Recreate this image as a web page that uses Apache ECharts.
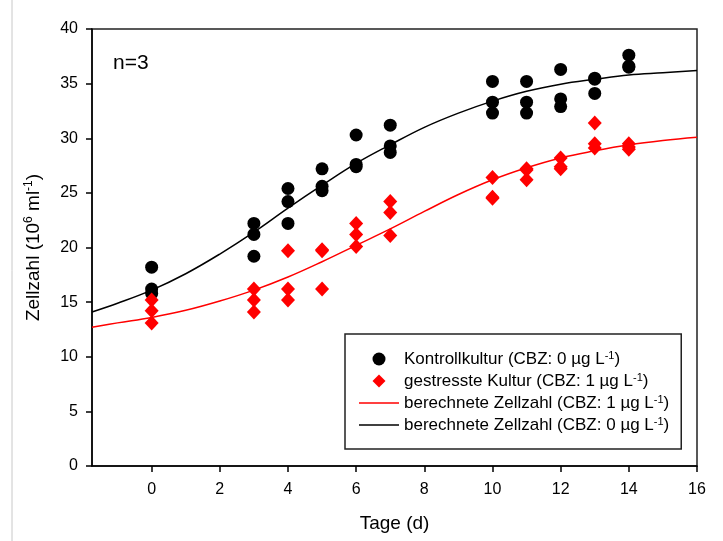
<!DOCTYPE html>
<html>
<head>
<meta charset="utf-8">
<script src="https://cdn.jsdelivr.net/npm/echarts@6/dist/echarts.min.js"></script>
<style>html,body{margin:0;padding:0;background:#fff;}#c{width:723px;height:541px;}</style>
</head>
<body>
<div id="c"></div>
<script>
// ---- data ----
const xTickValues = [0, 2, 4, 6, 8, 10, 12, 14, 16];
const yTickInterval = 5;

const ctrlDays  = [0,0,0, 3,3,3, 4,4,4, 5,5,5, 6,6,6, 7,7,7, 10,10,10, 11,11,11, 12,12,12, 13,13,13, 14,14,14];
const ctrlCells = [18.2,16.2,15.8, 22.2,21.2,19.2, 25.4,24.2,22.2, 27.2,25.6,25.2, 30.3,27.6,27.4, 31.2,29.3,28.7,
                   35.2,33.3,32.3, 35.2,33.3,32.3, 36.3,33.6,32.9, 35.5,35.4,34.1, 37.6,36.6,36.5];

const stressDays  = [0,0,0, 3,3,3, 4,4,4, 5,5,5, 6,6,6, 7,7,7, 10,10,10, 11,11,11, 12,12,12, 13,13,13, 14,14,14];
const stressCells = [15.2,14.2,13.1, 16.2,15.2,14.1, 19.7,16.2,15.2, 19.8,19.7,16.2, 22.2,21.2,20.1, 24.2,23.2,21.1,
                     26.4,24.6,24.5, 27.2,27.1,26.2, 28.2,27.4,27.2, 31.4,29.5,29.1, 29.5,29.2,29.0];

const fitDays     = [-1.75, -1, 0, 1, 2, 3, 4, 5, 6, 7, 8, 9, 10, 11, 12, 13, 14, 15, 16];
const fitCtrl     = [14.1, 14.9, 16.1, 17.6, 19.4, 21.4, 23.6, 25.7, 27.7, 29.4, 31.0, 32.3, 33.4, 34.3, 34.95, 35.4, 35.8, 36.0, 36.2];
const fitStress   = [12.7, 13.1, 13.6, 14.25, 15.1, 16.1, 17.3, 18.7, 20.2, 21.7, 23.3, 24.85, 26.2, 27.3, 28.2, 28.85, 29.4, 29.8, 30.1];

const seriesNames = ['Kontrollkultur', 'gestresste Kultur', 'berechnete Zellzahl 1', 'berechnete Zellzahl 0'];
const legendLabels = {
  'Kontrollkultur': 'Kontrollkultur (CBZ: 0 µg L{sup|-1})',
  'gestresste Kultur': 'gestresste Kultur (CBZ: 1 µg L{sup|-1})',
  'berechnete Zellzahl 1': 'berechnete Zellzahl (CBZ: 1 µg L{sup|-1})',
  'berechnete Zellzahl 0': 'berechnete Zellzahl (CBZ: 0 µg L{sup|-1})'
};

const zip = (a, b) => a.map((v, i) => [v, b[i]]);
const FONT = 'Liberation Sans, Arial, sans-serif';
const LINE_ICON = 'path://M0,0 L40,0 L40,1.5 L0,1.5 Z';
const DIAMOND_ICON = 'path://M6.5,0 L13,6.5 L6.5,13 L0,6.5 Z';

const chart = echarts.init(document.getElementById('c'), null, {renderer: 'canvas'});
chart.setOption({
  animation: false,
  backgroundColor: '#fff',
  textStyle: {fontFamily: FONT, color: '#000'},
  grid: {left: 92, right: 26, top: 29, bottom: 75, show: true, borderColor: '#222', borderWidth: 1.5, containLabel: false},
  xAxis: {
    type: 'value', min: -1.75, max: 16,
    name: 'Tage (d)', nameLocation: 'middle', nameGap: 48,
    nameTextStyle: {fontSize: 19, color: '#000', fontFamily: FONT},
    axisLine: {onZero: false, lineStyle: {color: '#000', width: 1.5}},
    axisTick: {show: true, length: 6, inside: false, customValues: xTickValues, lineStyle: {color: '#000', width: 1.5}},
    axisLabel: {customValues: xTickValues, fontSize: 16, color: '#000', margin: 16, fontFamily: FONT},
    splitLine: {show: false}
  },
  yAxis: {
    type: 'value', min: 0, max: 40, interval: yTickInterval,
    name: 'Zellzahl (10{sup|6} ml{sup|-1})', nameLocation: 'middle', nameGap: 47,
    nameTextStyle: {fontSize: 19, color: '#000', fontFamily: FONT, lineHeight: 22,
      rich: {sup: {fontSize: 12, verticalAlign: 'top', lineHeight: 22, color: '#000', fontFamily: FONT}}},
    axisLine: {show: true, onZero: false, lineStyle: {color: '#000', width: 1.5}},
    axisTick: {show: true, length: 6, inside: false, lineStyle: {color: '#000', width: 1.5}},
    axisLabel: {fontSize: 16, color: '#000', margin: 14, fontFamily: FONT},
    splitLine: {show: false}
  },
  legend: {
    orient: 'vertical', left: 345, top: 334,
    data: [
      {name: seriesNames[0], icon: 'circle'},
      {name: seriesNames[1], icon: DIAMOND_ICON},
      {name: seriesNames[2], icon: LINE_ICON},
      {name: seriesNames[3], icon: LINE_ICON}
    ],
    symbolKeepAspect: true,
    borderColor: '#222', borderWidth: 1.5, borderRadius: 0,
    padding: [16, 12, 15, 14],
    itemWidth: 40, itemHeight: 13, itemGap: 4,
    formatter: n => legendLabels[n],
    textStyle: {fontSize: 17, color: '#000', fontFamily: FONT, lineHeight: 18,
      rich: {sup: {fontSize: 11, verticalAlign: 'top', lineHeight: 18, color: '#000', fontFamily: FONT}}}
  },
  graphic: [
    {type: 'line', shape: {x1: 12, y1: 0, x2: 12, y2: 541}, style: {stroke: '#c8c8c8', lineWidth: 1}, silent: true},
    {type: 'text', left: 113, top: 53, style: {text: 'n=3', font: '21px ' + FONT, fill: '#000'}}
  ],
  series: [
    {name: seriesNames[2], type: 'line', data: zip(fitDays, fitStress), smooth: 0.4,
     symbol: 'none', lineStyle: {color: '#ff0000', width: 1.5}, itemStyle: {color: '#ff0000'}, z: 2},
    {name: seriesNames[3], type: 'line', data: zip(fitDays, fitCtrl), smooth: 0.4,
     symbol: 'none', lineStyle: {color: '#000', width: 1.5}, itemStyle: {color: '#000'}, z: 2},
    {name: seriesNames[0], type: 'scatter', data: zip(ctrlDays, ctrlCells), symbol: 'circle', symbolSize: 13,
     itemStyle: {color: '#000', opacity: 1}, z: 3},
    {name: seriesNames[1], type: 'scatter', data: zip(stressDays, stressCells), symbol: 'diamond', symbolSize: [14, 15],
     itemStyle: {color: '#ff0000', opacity: 1}, z: 4}
  ]
});
</script>
</body>
</html>
